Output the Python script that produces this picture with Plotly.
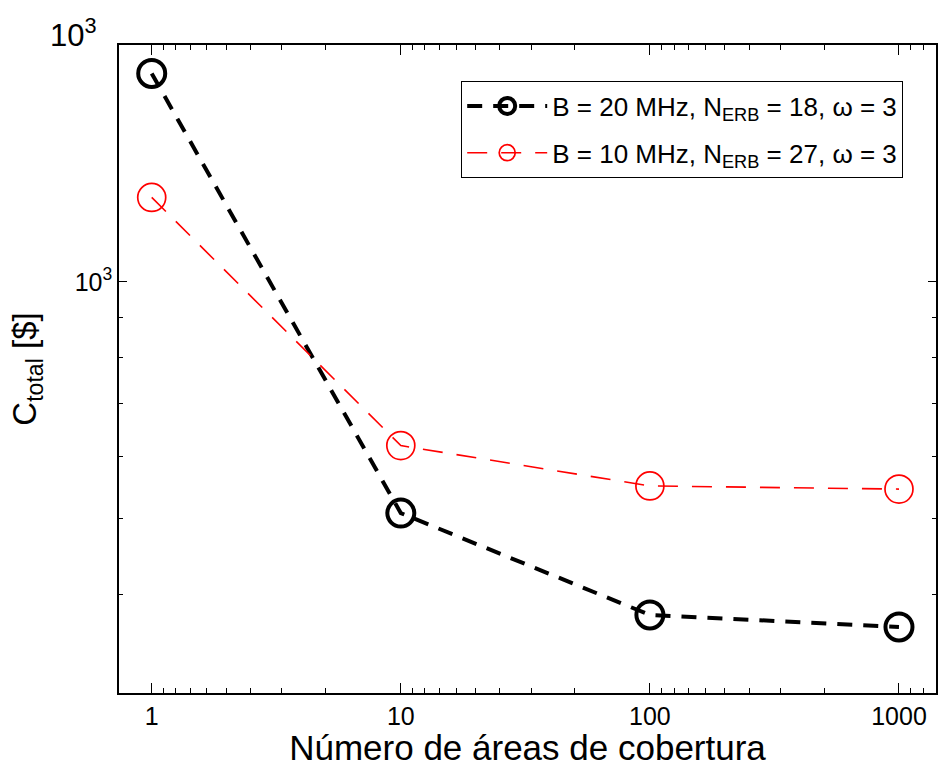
import math
import plotly.graph_objects as go

# ---- data ----
areas = [1, 10, 100, 1000]
cost_20mhz = [1840, 508, 377, 364]
cost_10mhz = [1280, 619, 550, 545]
series_names = [
    "B = 20 MHz, N<sub>ERB</sub> = 18, ω = 3",
    "B = 10 MHz, N<sub>ERB</sub> = 27, ω = 3",
]

x_tick_vals = [1, 10, 100, 1000]
x_tick_text = ["1", "10", "100", "1000"]
# minor ticks as they appear in the reference (10/k pattern per decade)
x_minor_vals = [10 * 10**d / k for d in (-1, 0, 1, 2, 3) for k in (2, 3, 4, 5, 6, 7, 8, 9)]
y_tick_vals = [1000, 2000]
y_tick_text = ["10<sup>3</sup>", ""]
y_minor_vals = [400, 500, 600, 700, 800, 900]

x_title = "Número de áreas de cobertura"
y_title = "C<sub>total</sub> [$]"
top_label = "10<sup>3</sup>"

FONT = "Liberation Sans, Arial, sans-serif"

fig = go.Figure()
fig.add_trace(go.Scatter(
    x=areas, y=cost_20mhz, name=series_names[0], mode="lines+markers",
    line=dict(color="black", width=4, dash="15px,11px"),
    marker=dict(symbol="circle-open", size=27, color="black", line=dict(width=4, color="black")),
    legendgroup="a",
))
fig.add_trace(go.Scatter(
    x=areas, y=cost_10mhz, name=series_names[1], mode="lines+markers",
    line=dict(color="red", width=1.6, dash="20px,14px"),
    marker=dict(symbol="circle-open", size=28, color="red", line=dict(width=1.7, color="red")),
    legendgroup="b",
))

axis_common = dict(
    showline=True, linecolor="black", linewidth=1.5, mirror="allticks",
    ticks="inside", tickcolor="black", tickwidth=1,
    showgrid=False, zeroline=False,
    tickfont=dict(family=FONT, size=25, color="black"),
)

fig.update_xaxes(
    type="log", range=[math.log10(0.739), math.log10(1408)],
    tickmode="array", tickvals=x_tick_vals, ticktext=x_tick_text, ticklen=10,
    minor=dict(tickmode="array", tickvals=x_minor_vals, ticks="inside", ticklen=5,
               tickcolor="black", tickwidth=1, showgrid=False),
    title=dict(text=x_title, font=dict(family=FONT, size=35, color="black"), standoff=5),
    **axis_common,
)
fig.update_yaxes(
    type="log", range=[math.log10(300), math.log10(2000)],
    tickmode="array", tickvals=y_tick_vals, ticktext=y_tick_text, ticklen=8,
    minor=dict(tickmode="array", tickvals=y_minor_vals, ticks="inside", ticklen=4,
               tickcolor="black", tickwidth=1, showgrid=False),
    title=dict(text=y_title, font=dict(family=FONT, size=33, color="black"), standoff=28),
    **axis_common,
)

fig.add_annotation(
    text=top_label, xref="paper", yref="paper", x=-0.025, y=0.985,
    xanchor="right", yanchor="bottom", showarrow=False,
    font=dict(family=FONT, size=31, color="black"),
)

fig.update_layout(
    width=939, height=767,
    margin=dict(l=119, r=3, t=45, b=74, autoexpand=False),
    paper_bgcolor="white", plot_bgcolor="white",
    font=dict(family=FONT, color="black"),
    showlegend=True,
    legend=dict(
        x=0.4186, y=0.944, xanchor="left", yanchor="top",
        bgcolor="white", bordercolor="black", borderwidth=1.2,
        font=dict(family=FONT, size=26, color="black"),
        tracegroupgap=10, itemwidth=80,
    ),
)

fig.write_html(
    "out.html",
    config={"displayModeBar": False},
    post_script="document.body.style.margin='0';document.body.style.overflow='hidden';",
)
